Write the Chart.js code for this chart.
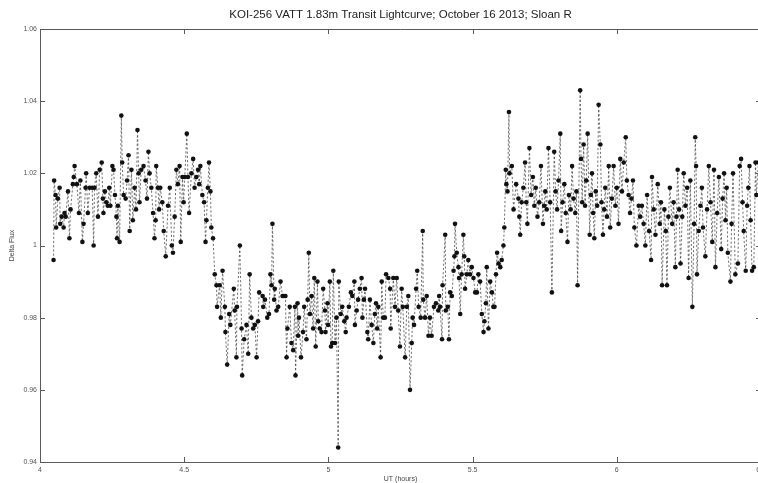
<!DOCTYPE html>
<html><head><meta charset="utf-8">
<script src="https://cdn.jsdelivr.net/npm/chart.js@4/dist/chart.umd.min.js"></script>
<style>
html,body{margin:0;padding:0;background:#fff;overflow:hidden;width:758px;height:483px}
#wrap{position:absolute;left:0;top:0;width:765px;height:483px}
</style>
</head><body><div id="wrap"><canvas id="c" width="765" height="483"></canvas></div>
<script>
const titleText = 'KOI-256 VATT 1.83m Transit Lightcurve; October 16 2013; Sloan R';
const xAxisTitle = 'UT (hours)';
const yAxisTitle = 'Delta Flux';
const xTickValues = [4, 4.5, 5, 5.5, 6, 6.5];
const xTickLabels = ['4', '4.5', '5', '5.5', '6', '6.5'];
const yTickValues = [0.94, 0.96, 0.98, 1.00, 1.02, 1.04, 1.06];
const yTickLabels = ['0.94', '0.96', '0.98', '1', '1.02', '1.04', '1.06'];

// pre-transit
const timePre = [
4.047,4.049,4.054,4.056,4.062,4.068,4.070,4.075,4.082,4.085,
4.089,4.097,4.102,4.106,4.114,4.117,4.120,4.128,4.135,4.140,
4.147,4.151,4.158,4.160,4.166,4.172,4.181,4.186,4.189,4.195,
4.201,4.207,4.214,4.218,4.220,4.225,4.230,4.235,4.240,4.244,
4.251,4.255,4.260,4.265,4.267,4.270,4.276,4.282,4.285,4.290,
4.297,4.302,4.307,4.311,4.317,4.322,4.328,4.333,4.338,4.342,
4.345,4.351,4.359,4.366,4.371,4.376,4.380,4.386,4.392,4.397,
4.401,4.403,4.409,4.413,4.417,4.424,4.429,4.436,4.444,4.450,
4.457,4.461,4.467,4.473,4.478,4.484,4.488,4.494,4.498,4.502,
4.509,4.513,4.517,4.525,4.531,4.536,4.542,4.548,4.552,4.556,
4.563,4.569,4.574,4.577,4.582,4.586,4.591,4.594,4.600,4.606,
4.612];
const fluxPre = [
0.996,1.018,1.014,1.005,1.013,1.016,1.006,1.008,1.005,1.009,
1.008,1.015,1.002,1.010,1.017,1.019,1.022,1.017,1.009,1.018,
1.001,1.006,1.016,1.020,1.009,1.016,1.016,1.000,1.016,1.020,
1.008,1.021,1.023,1.013,1.009,1.015,1.012,1.011,1.016,1.011,
1.022,1.021,1.014,1.008,1.002,1.011,1.001,1.036,1.023,1.014,
1.013,1.018,1.025,1.004,1.021,1.007,1.016,1.010,1.032,1.020,
1.012,1.021,1.022,1.018,1.013,1.026,1.020,1.016,1.009,1.002,
1.007,1.022,1.016,1.010,1.016,1.012,1.004,0.997,1.011,1.016,
1.000,0.998,1.008,1.021,1.017,1.022,1.001,1.019,1.012,1.019,
1.031,1.019,1.009,1.020,1.024,1.016,1.019,1.021,1.017,1.022,
1.014,1.012,1.001,1.007,1.016,1.023,1.015,1.005,1.002,0.992,
0.989];

// in transit (incl. ingress / egress)
const timeTransit = [
4.614,4.623,4.627,4.633,4.641,4.643,4.649,4.656,4.660,4.672,
4.675,4.681,4.683,4.693,4.699,4.701,4.708,4.716,4.722,4.727,
4.733,4.739,4.745,4.751,4.756,4.760,4.772,4.774,4.780,4.788,
4.794,4.799,4.803,4.806,4.812,4.814,4.820,4.826,4.834,4.841,
4.845,4.851,4.855,4.858,4.866,4.872,4.878,4.884,4.886,4.893,
4.895,4.898,4.905,4.912,4.916,4.924,4.928,4.932,4.936,4.942,
4.947,4.951,4.956,4.962,4.965,4.970,4.976,4.982,4.988,4.990,
4.997,4.999,5.005,5.009,5.013,5.017,5.023,5.028,5.034,5.036,
5.043,5.048,5.055,5.060,5.063,5.071,5.078,5.083,5.090,5.092,
5.098,5.103,5.109,5.115,5.118,5.123,5.127,5.135,5.138,5.144,
5.150,5.156,5.161,5.165,5.169,5.173,5.181,5.185,5.190,5.196,
5.200,5.208,5.214,5.216,5.225,5.231,5.237,5.242,5.248,5.254,
5.258,5.266,5.272,5.277,5.283,5.289,5.292,5.297,5.304,5.308,
5.313,5.320,5.327,5.329,5.335,5.341,5.347,5.352,5.358,5.366,
5.373,5.381,5.384,5.387,5.394,5.396,5.405,5.407,5.414,5.418,
5.422,5.428,5.434,5.437,5.439,5.445,5.451,5.453,5.457,5.462,
5.468,5.471,5.474,5.480,5.485,5.491,5.497,5.503,5.509,5.515,
5.520,5.526,5.532,5.538,5.541,5.546,5.549,5.555,5.561,5.567,
5.572,5.576,5.581,5.585,5.590,5.596,5.601,5.607,5.610,5.615,
5.617,5.621,5.626,5.628,5.636,5.642];
const fluxTransit = [
0.983,0.989,0.980,0.993,0.983,0.976,0.967,0.981,0.978,0.988,
0.982,0.969,0.983,1.000,0.977,0.964,0.974,0.978,0.970,0.992,
0.980,0.977,0.978,0.969,0.979,0.987,0.986,0.983,0.985,0.980,
0.981,0.992,0.989,1.006,0.985,0.988,0.982,0.983,0.990,0.986,
0.986,0.986,0.969,0.977,0.983,0.973,0.971,0.983,0.964,0.984,
0.975,0.980,0.969,0.976,0.983,0.974,0.985,0.998,0.981,0.986,
0.977,0.991,0.972,0.990,0.979,0.977,0.976,0.988,0.982,0.976,
0.984,0.978,0.990,0.972,0.973,0.993,0.973,0.980,0.944,0.990,
0.981,0.983,0.979,0.976,0.980,0.983,0.987,0.986,0.990,0.978,
0.982,0.985,0.988,0.991,0.980,0.985,0.988,0.976,0.974,0.985,
0.978,0.973,0.981,0.984,0.977,0.983,0.969,0.990,0.980,0.980,
0.992,0.991,0.988,0.977,0.991,0.983,0.991,0.982,0.972,0.988,
0.983,0.969,0.983,0.986,0.960,0.973,0.980,0.978,0.988,0.993,
0.983,0.980,1.004,0.985,0.980,0.986,0.975,0.980,0.975,0.983,
0.984,0.982,0.986,0.983,0.974,0.989,1.003,0.982,0.983,0.974,
0.987,0.986,0.993,0.997,1.006,0.998,0.994,0.991,0.981,0.992,
1.003,0.997,0.988,0.992,0.996,0.992,0.994,0.991,0.987,0.987,
0.992,0.990,0.981,0.976,0.979,0.984,0.994,0.977,0.990,0.987,
0.983,0.983,0.992,0.998,0.995,0.994,0.996,1.000,1.005,1.021,
1.017,1.015,1.037,1.020,1.022,1.010];

// post-transit
const timePost = [
5.651,5.659,5.662,5.665,5.670,5.676,5.682,5.686,5.690,5.697,
5.703,5.709,5.714,5.719,5.725,5.731,5.737,5.744,5.748,5.752,
5.757,5.763,5.769,5.775,5.783,5.788,5.793,5.798,5.804,5.807,
5.812,5.818,5.823,5.829,5.834,5.840,5.845,5.850,5.856,5.860,
5.864,5.873,5.876,5.880,5.885,5.890,5.894,5.899,5.906,5.910,
5.914,5.918,5.922,5.927,5.932,5.937,5.943,5.947,5.952,5.956,
5.960,5.966,5.972,5.977,5.983,5.989,5.995,6.000,6.006,6.012,
6.018,6.024,6.031,6.035,6.041,6.046,6.051,6.056,6.061,6.068,
6.076,6.081,6.087,6.093,6.099,6.105,6.112,6.119,6.122,6.128,
6.134,6.142,6.149,6.153,6.157,6.165,6.170,6.174,6.179,6.184,
6.192,6.197,6.203,6.207,6.211,6.216,6.221,6.227,6.232,6.238,
6.244,6.249,6.255,6.262,6.268,6.272,6.275,6.278,6.284,6.290,
6.295,6.299,6.307,6.313,6.319,6.325,6.331,6.337,6.342,6.348,
6.354,6.362,6.367,6.372,6.377,6.381,6.385,6.394,6.398,6.403,
6.411,6.420,6.426,6.431,6.436,6.440,6.447,6.452,6.456,6.460,
6.464,6.469,6.475,6.481,6.484,6.491];
const fluxPost = [
1.017,1.013,1.008,1.003,1.012,1.016,1.023,1.012,1.006,1.027,
1.014,1.019,1.011,1.016,1.008,1.012,1.022,1.006,1.011,1.015,
1.010,1.027,1.012,0.987,1.026,1.015,1.010,1.018,1.031,1.004,
1.012,1.017,1.009,1.001,1.014,1.010,1.022,1.013,1.009,1.015,
0.989,1.043,1.024,1.012,1.028,1.011,1.018,1.031,1.003,1.014,
1.020,1.009,1.002,1.015,1.011,1.039,1.028,1.012,1.003,1.010,
1.016,1.008,1.022,1.005,1.013,1.022,1.011,1.016,1.006,1.024,
1.015,1.023,1.030,1.018,1.014,1.009,1.013,1.018,1.005,1.000,
1.011,1.008,1.011,1.006,1.000,1.014,1.004,0.996,1.019,1.010,
1.003,1.017,1.006,1.012,0.989,1.010,1.004,0.989,1.008,1.016,
1.006,1.012,0.994,1.008,1.021,1.010,0.995,1.008,1.020,1.011,
1.016,0.991,1.018,0.983,1.006,1.030,1.022,0.992,1.004,1.011,
1.016,1.005,0.997,1.010,1.022,1.012,1.001,1.021,0.994,1.009,
1.019,0.999,1.013,1.020,1.007,1.016,0.998,0.990,1.006,1.020,
0.992,0.995,1.022,1.024,1.012,1.004,0.993,1.011,1.016,1.022,
1.007,0.993,0.994,1.023,1.014,1.023];

const times = timePre.concat(timeTransit, timePost);
const flux = fluxPre.concat(fluxTransit, fluxPost);
const points = times.map((t, i) => ({ x: t, y: flux[i] }));

const FONT = '"Liberation Sans", Arial, Helvetica, sans-serif';
const AXIS = '#5a5a5a';

const whiteBg = {
  id: 'whiteBg',
  beforeDraw(chart) {
    const ctx = chart.ctx;
    ctx.save(); ctx.fillStyle = '#fff';
    ctx.fillRect(0, 0, chart.width, chart.height);
    ctx.restore();
  }
};

const inwardTicks = {
  id: 'inwardTicks',
  afterDraw(chart) {
    const { ctx, chartArea: a, scales: { x, y } } = chart;
    ctx.save();
    ctx.strokeStyle = AXIS; ctx.lineWidth = 1;
    ctx.beginPath();
    ctx.moveTo(a.left, Math.round(a.top) + 0.5); ctx.lineTo(a.right, Math.round(a.top) + 0.5);
    ctx.moveTo(Math.round(a.right) - 0.5, a.top); ctx.lineTo(Math.round(a.right) - 0.5, a.bottom);
    x.ticks.forEach(t => {
      const px = Math.round(x.getPixelForValue(t.value)) + 0.5;
      ctx.moveTo(px, a.bottom); ctx.lineTo(px, a.bottom - 5);
      ctx.moveTo(px, a.top); ctx.lineTo(px, a.top + 5);
    });
    y.ticks.forEach(t => {
      const py = Math.round(y.getPixelForValue(t.value)) + 0.5;
      ctx.moveTo(a.left, py); ctx.lineTo(a.left + 5, py);
      ctx.moveTo(a.right, py); ctx.lineTo(a.right - 5, py);
    });
    ctx.stroke();
    ctx.restore();
  }
};

new Chart(document.getElementById('c'), {
  type: 'line',
  data: {
    datasets: [{
      data: points,
      borderColor: 'rgba(70,70,70,0.85)',
      borderWidth: 0.9,
      borderDash: [2.2, 2],
      pointRadius: 2.3,
      pointBackgroundColor: '#111',
      pointBorderWidth: 0,
      tension: 0,
      fill: false
    }]
  },
  options: {
    responsive: false,
    animation: false,
    devicePixelRatio: 1,
    layout: { padding: { left: 0, right: 1.5, top: 0, bottom: 0 } },
    plugins: {
      legend: { display: false },
      tooltip: { enabled: false },
      title: {
        display: true, text: titleText, color: '#222', fullSize: false,
        font: { family: FONT, size: 11.5, weight: 'normal' },
        padding: { top: 7.5, bottom: 7.7 }
      }
    },
    scales: {
      x: {
        type: 'linear', min: 4, max: 6.5,
        grid: { display: false, drawTicks: false },
        border: { display: true, color: AXIS, width: 1 },
        ticks: {
          font: { family: FONT, size: 7 }, color: '#555', padding: 4,
          maxRotation: 0, autoSkip: false,
          callback: (v, i) => xTickLabels[i]
        },
        afterBuildTicks: s => { s.ticks = xTickValues.map(v => ({ value: v })); },
        afterFit: s => { s.height = 21; s.paddingRight = 0; s.paddingLeft = 0; },
        title: { display: true, text: xAxisTitle, color: '#444', font: { family: FONT, size: 7 }, padding: 0 }
      },
      y: {
        type: 'linear', min: 0.94, max: 1.06,
        grid: { display: false, drawTicks: false },
        border: { display: true, color: AXIS, width: 1 },
        ticks: {
          font: { family: FONT, size: 7 }, color: '#555', padding: 3,
          autoSkip: false,
          callback: (v, i) => yTickLabels[i]
        },
        afterBuildTicks: s => { s.ticks = yTickValues.map(v => ({ value: v })); },
        afterFit: s => { s.width = 40; },
        title: { display: true, text: yAxisTitle, color: '#444', font: { family: FONT, size: 7 }, padding: { top: 7.8, bottom: 0 } }
      }
    }
  },
  plugins: [whiteBg, inwardTicks]
});
</script>
</body></html>
